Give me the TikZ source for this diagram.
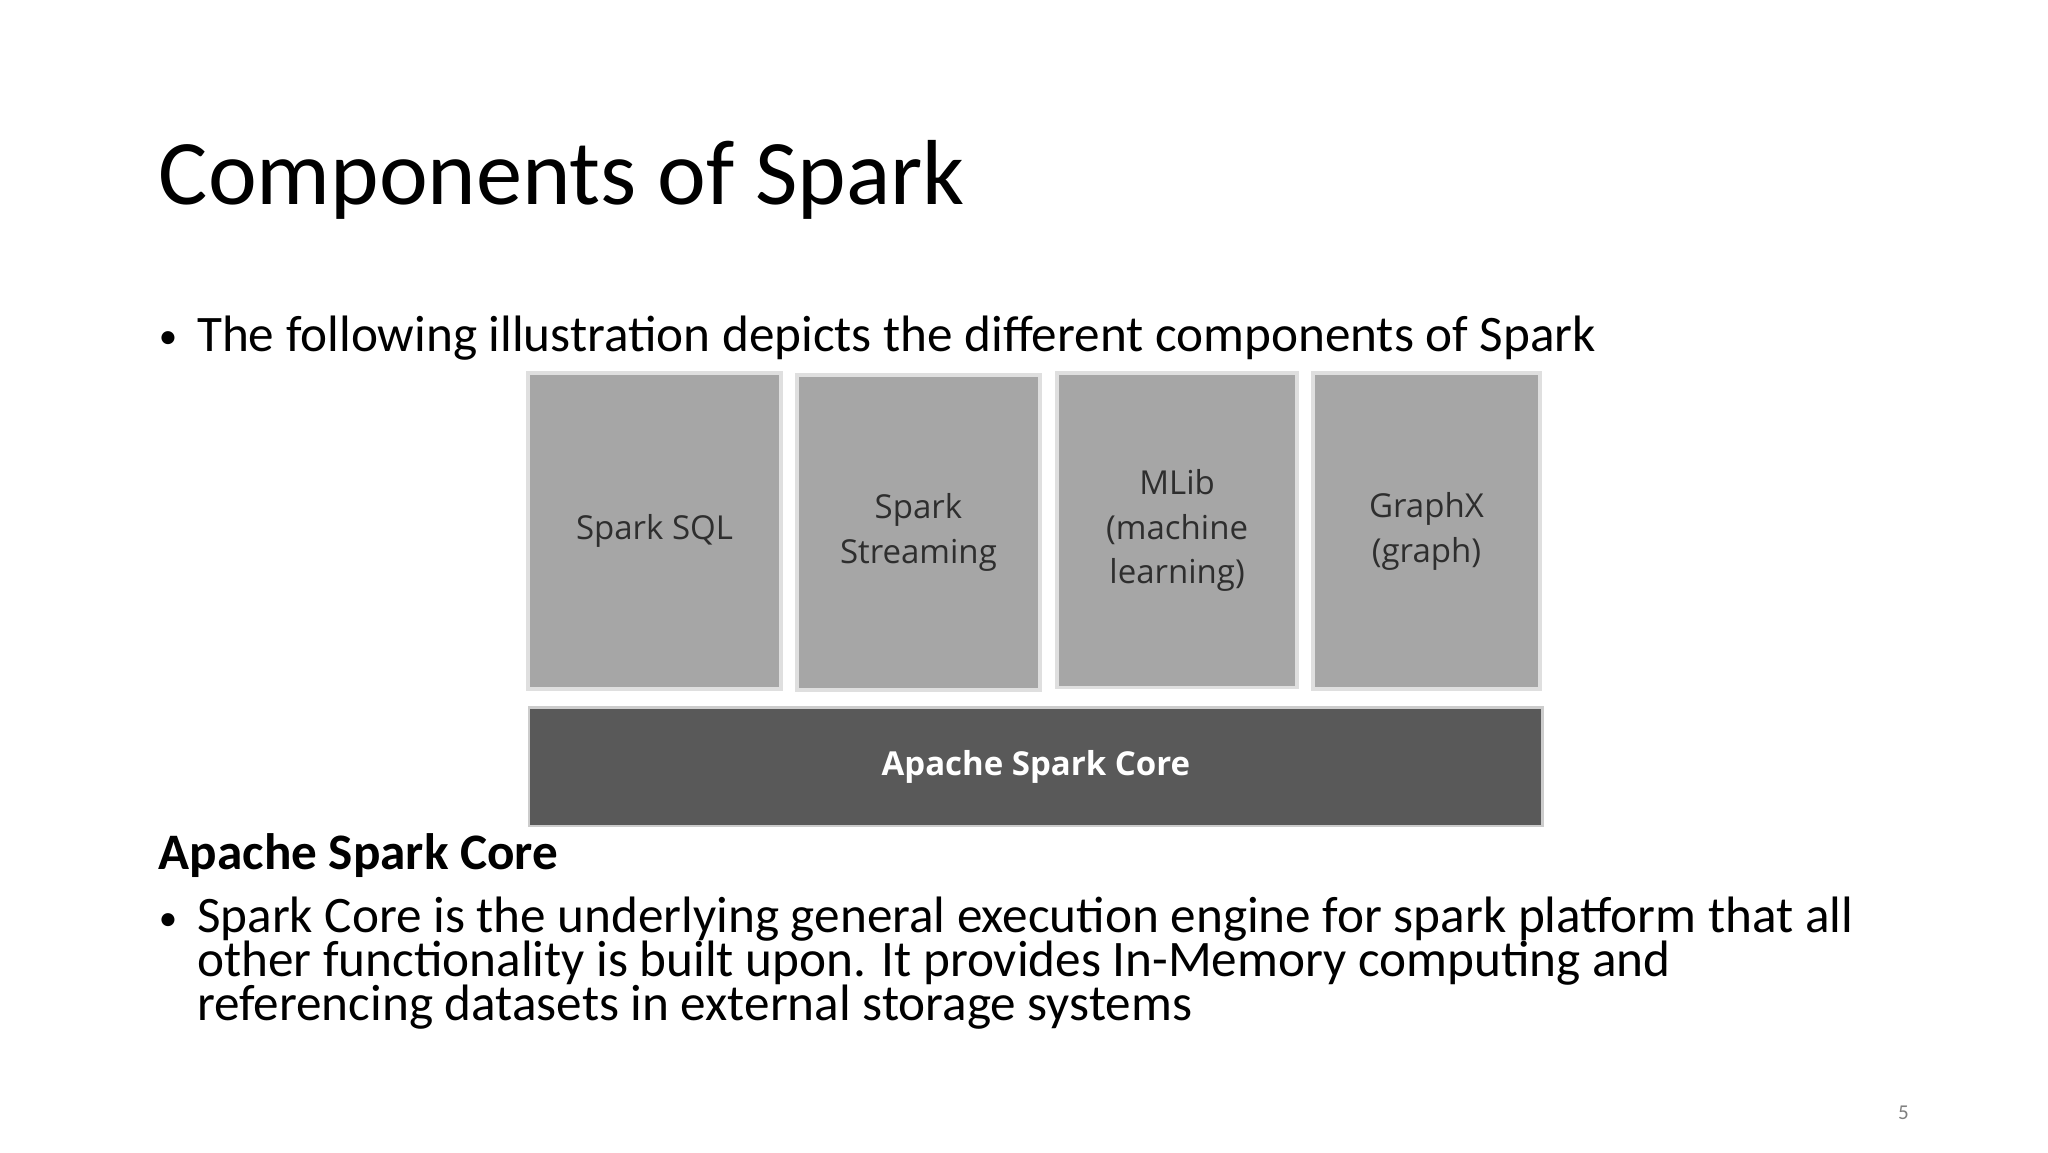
\documentclass[tikz,border=0pt]{standalone}
\usepackage{fontspec}
\setmainfont{Carlito}
\newfontfamily\boxfont{Open Sans}
\begin{document}
\begin{tikzpicture}[x=0.5pt,y=-0.5pt,
  comp/.style={draw=gray!25,line width=1.5pt,fill=black!35,text=black!82,align=center,font=\boxfont\fontsize{12.5}{17}\selectfont,inner sep=0pt},
  txt/.style={anchor=base west,inner sep=0pt},
  body/.style={font=\fontsize{19.4}{22}\selectfont}]
\useasboundingbox (0,0) rectangle (1552,873);
\fill[white] (0,0) rectangle (1552,873);
\node[txt,font=\fontsize{35}{40}\selectfont] (title) at (120,155) {Components of Spark};
\node[txt,font=\fontsize{14}{20}\selectfont] (b1) at (120,264) {•};
\node[txt,body] (t1) at (149,266) {The following illustration depicts the different components of Spark};
\node[comp,minimum width=96pt,minimum height=119.5pt] (sql) at (496,402.5) {Spark SQL};
\node[comp,minimum width=92pt,minimum height=119.5pt] (str) at (696,403.5) {Spark\\Streaming};
\node[comp,minimum width=91pt,minimum height=119pt] (ml) at (892,402) {MLib\\(machine\\learning)};
\node[comp,minimum width=86pt,minimum height=119.5pt] (gx) at (1081,402.5) {GraphX\\(graph)};
\node[draw=gray!40,line width=1pt,fill=black!65,text=white,font=\boxfont\fontsize{12.5}{16}\selectfont\bfseries,minimum width=384pt,minimum height=45pt,inner sep=0pt] (core) at (785,581) {Apache Spark Core};
\node[txt,font=\fontsize{19.4}{22}\selectfont\bfseries] (h) at (120,659) {Apache Spark Core};
\node[txt,font=\fontsize{14}{20}\selectfont] (b2) at (120,705) {•};
\node[txt,body] (l1) at (149,707) {Spark Core is the underlying general execution engine for spark platform that all};
\node[txt,body] (l2) at (149,740) {other functionality is built upon. It provides In-Memory computing and};
\node[txt,body] (l3) at (149,773) {referencing datasets in external storage systems};
\node[txt,font=\fontsize{8}{10}\selectfont,text=gray] (pg) at (1438,848) {5};
\end{tikzpicture}
\end{document}
